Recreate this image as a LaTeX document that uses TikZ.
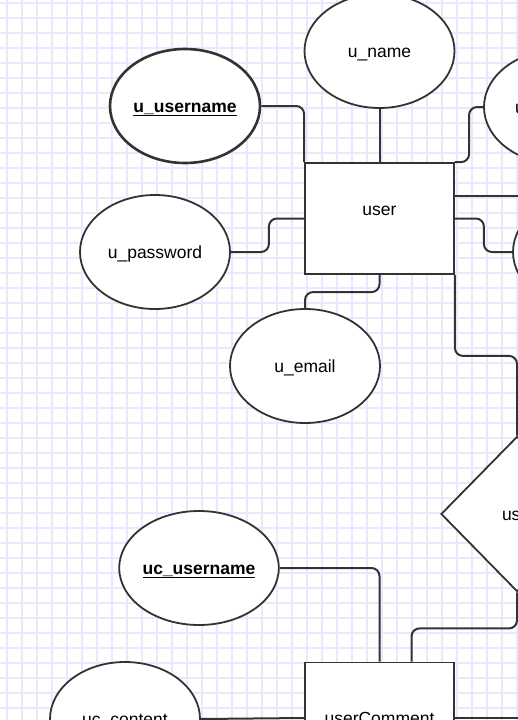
\documentclass[tikz,border=0pt]{standalone}
\usepackage{fontspec}
\setmainfont{Liberation Sans}
\usetikzlibrary{shapes.geometric}
\definecolor{gridcol}{RGB}{232,232,255}
\definecolor{linecol}{RGB}{51,51,51}
\begin{document}
\begin{tikzpicture}[x=1pt, y=-1pt]

      \tikzset{attr/.style={draw=linecol, ellipse, fill=white, line width=1.8pt, minimum width=150pt, minimum height=114pt, inner sep=0pt, text height=12pt, text depth=0pt, font=\fontsize{17.5}{20}\selectfont},
               keyattr/.style={attr, font=\fontsize{17.5}{20}\selectfont\bfseries},
               entity/.style={draw=linecol, rectangle, fill=white, line width=1.8pt, minimum width=149pt, minimum height=111pt, inner sep=0pt, text height=12pt, text depth=0pt, font=\fontsize{17.5}{20}\selectfont},
               relation/.style={draw=linecol, diamond, fill=white, line width=1.8pt, minimum width=152pt, minimum height=155pt, inner sep=0pt, text height=12pt, text depth=0pt, font=\fontsize{17.5}{20}\selectfont},
               link/.style={draw=linecol, line width=2pt, rounded corners=8pt}}
% Grid
      \useasboundingbox (0,0) rectangle (518,720);
      \clip (0,0) rectangle (518,720);
      \fill[white] (0,0) rectangle (518,720);
      \foreach \gx in {7,22,...,517} \draw[gridcol, line width=1.1pt] (\gx,0) -- (\gx,720);
      \foreach \gy in {3,18,...,708} \draw[gridcol, line width=1.1pt] (0,\gy) -- (518,\gy);
% Entities
      \node[entity, text depth=19pt] (user) at (379.5,218.5) {user};
      \node[entity] (usercomment) at (379.5,718) {userComment};
      \node[relation, text width=30pt, align=left] (rel) at (517,514) {us};
% Attributes
      \node[attr] (uname) at (379.5,51) {u\_name};
      \node[keyattr, line width=2.6pt] (uusername) at (185,106) {\underline{u\_username}};
      \node[attr] (upassword) at (155,252) {u\_password};
      \node[attr] (uemail) at (305,366) {u\_email};
      \node[attr, text width=88pt, align=left] (uright) at (559,107) {u};
      \node[attr] (uright2) at (588,252) {};
      \node[keyattr] (ucusername) at (199,568) {\underline{uc\_username}};
      \node[attr] (uccontent) at (125,719) {uc\_content};
      \coordinate (edgeA) at (518,196);
      \coordinate (edgeB) at (518,718);
%Links
      \path[link] (uname.south) -- (user.north);
      \path[link] (uusername.east) -| (user.north west);
      \path[link] (upassword.east) -- ++(38,0) |- (user.west);
      \path[link] (uemail.north) -- ++(0,-16) -| (user.south);
      \path[link] (uright.west) -- ++(-14,0) |- (user.north east);
      \path[link] (user.east |- edgeA) -- (edgeA);
      \path[link] (user.east) -- ++(29,0) |- (uright2.west);
      \path[link] (user.south east) -- ++(0,81) -| (rel.north);
      \path[link] (rel.south) -- ++(0,36) -| ([xshift=32pt]usercomment.north);
      \path[link] (ucusername.east) -| (usercomment.north);
      \path[link] (uccontent.east) -- (usercomment.west);
      \path[link] (usercomment.east) -- (edgeB);

\end{tikzpicture}
\end{document}
